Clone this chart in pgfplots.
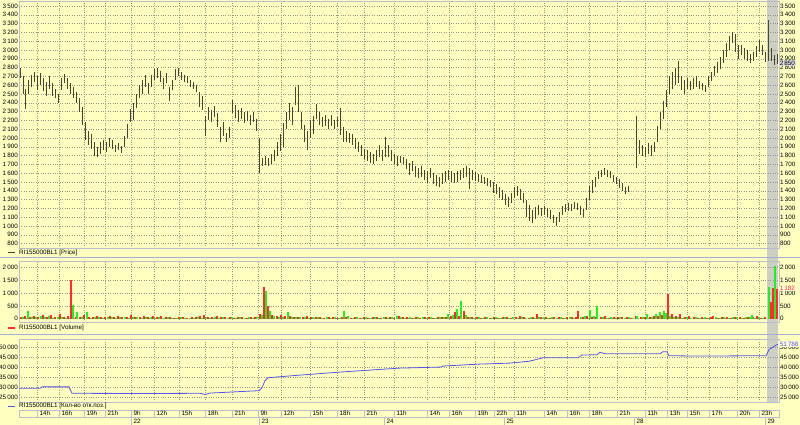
\documentclass[border=0pt]{standalone}
\usepackage{fontspec}
\setmainfont{Liberation Sans}
\usepackage{pgfplots}
\pgfplotsset{compat=1.18}
\definecolor{bgc}{RGB}{255,255,194}
\definecolor{gridc}{RGB}{150,150,135}
\definecolor{axc}{RGB}{185,190,205}
\definecolor{sepc}{RGB}{165,175,215}
\definecolor{pricec}{RGB}{70,70,45}
\definecolor{redc}{RGB}{255,45,45}
\definecolor{greenc}{RGB}{40,235,40}
\definecolor{oic}{RGB}{85,85,230}
\definecolor{shadec}{RGB}{205,207,195}
\newcommand\tlfont{\fontsize{6.3}{7}\selectfont}
\pgfplotsset{
 panel/.style={
  scale only axis, width=760pt, xmin=19, xmax=779, anchor=south west,
  axis line style={draw=axc},
  xtick={37,59,84,105,131,154,179,205,232,258,281,310,337,364,394,427,449,475,494,514,544,567,589,617,645,667,687,709,737,759},
  xticklabels={},
  xmajorgrids, ymajorgrids,
  grid style={gridc, dotted, line width=0.45pt},
  major tick length=0pt,
  yticklabel style={font=\tlfont, inner sep=1pt},
  scaled y ticks=false,
  /pgf/number format/1000 sep={\,},
  /pgf/number format/assume math mode=true,
 },
 rpanel/.style={panel, axis y line*=right, axis x line=none, xmajorgrids=false, ymajorgrids=false},
 strip/.style={
  scale only axis, width=760pt, xmin=19, xmax=779, ymin=0, ymax=1, anchor=south west,
  axis line style={draw=axc}, ytick=\empty, xmajorgrids, grid style={axc, solid, line width=0.5pt},
  major tick length=0pt,
  xticklabel style={anchor=south west, font=\tlfont, inner sep=0.8pt, xshift=1.5pt},
 },
}
\begin{document}
\begin{tikzpicture}
\fill[bgc] (0pt,0pt) rectangle (800pt,425pt);
\useasboundingbox (0pt,0pt) rectangle (800pt,425pt);
% highlight column
\fill[shadec] (767pt,23pt) rectangle (778pt,425pt);
% separators
\draw[sepc, line width=0.8pt] (0pt,168pt) -- (800pt,168pt);
\draw[sepc, line width=0.8pt] (0pt,91pt) -- (800pt,91pt);

% ---------------- PRICE ----------------
\begin{axis}[panel, at={(19pt,177pt)}, height=247pt, ymin=750, ymax=3557,
  ytick={800,900,...,3500}]
\addplot[pricec, line width=0.7pt, mark=none, quiver={u=0, v=\thisrow{h}-\thisrow{l}}]
 table[x=x, y=l] {
x l h
20 2680 2790
23 2500 2700
25 2330 2560
28 2500 2660
31 2580 2720
34 2640 2750
37 2540 2700
40 2600 2740
43 2530 2680
46 2480 2640
49 2560 2700
52 2480 2620
55 2450 2560
58 2400 2500
61 2540 2680
64 2620 2730
67 2560 2680
70 2500 2620
73 2460 2580
76 2400 2520
79 2300 2450
82 2150 2350
85 1980 2180
88 1920 2080
91 1880 2040
94 1800 1960
97 1780 1900
100 1820 1950
103 1860 1980
106 1840 1960
109 1900 2000
112 1880 1980
115 1840 1920
118 1860 1940
121 1830 1910
124 1900 2020
127 2000 2160
130 2180 2330
133 2200 2400
136 2340 2500
139 2450 2600
142 2500 2660
145 2580 2720
148 2500 2620
151 2580 2720
154 2660 2780
157 2680 2800
160 2640 2760
163 2560 2680
166 2620 2740
169 2420 2580
172 2540 2660
175 2660 2780
178 2700 2790
181 2660 2750
184 2640 2720
187 2620 2700
190 2580 2660
193 2560 2640
196 2520 2600
199 2350 2520
202 2320 2480
205 2020 2250
208 2200 2350
211 2180 2320
214 2240 2360
217 2130 2280
220 1960 2130
223 2020 2180
226 1950 2060
229 2000 2120
232 2280 2430
235 2230 2380
238 2180 2320
241 2220 2340
244 2170 2300
247 2190 2310
250 2150 2260
253 2180 2300
256 2080 2220
259 1600 2000
262 1680 1770
265 1690 1790
268 1680 1770
271 1700 1820
274 1740 1860
277 1800 1950
280 1850 2050
283 1900 2170
286 2100 2300
289 2200 2400
292 2150 2350
295 2380 2580
298 2300 2600
301 2100 2300
304 1950 2150
307 1860 2080
310 2000 2200
313 2050 2250
316 2220 2390
319 2150 2290
322 2120 2240
325 2140 2260
328 2100 2220
331 2140 2260
334 2100 2200
337 2120 2240
340 2030 2340
343 1960 2130
346 1950 2080
349 1940 2060
352 1920 2040
355 1880 2000
358 1840 1960
361 1800 1920
364 1760 1880
367 1740 1860
370 1720 1840
373 1700 1820
376 1740 1860
379 1780 1920
382 1740 1860
385 1780 2010
388 1780 1920
391 1740 1860
394 1700 1820
397 1680 1800
400 1720 1800
403 1700 1780
406 1650 1760
409 1580 1720
412 1620 1740
415 1560 1680
418 1540 1660
421 1560 1680
424 1520 1640
427 1490 1620
430 1540 1660
433 1480 1600
436 1460 1580
439 1440 1560
442 1480 1600
445 1500 1620
448 1520 1640
451 1500 1620
454 1490 1600
457 1500 1620
460 1520 1640
463 1540 1660
466 1560 1680
469 1420 1660
472 1520 1640
475 1510 1610
478 1500 1590
481 1490 1580
484 1480 1560
487 1460 1540
490 1440 1520
493 1380 1500
496 1360 1480
499 1320 1440
502 1290 1410
505 1240 1360
508 1220 1330
511 1260 1380
514 1320 1440
517 1340 1460
520 1300 1420
523 1260 1380
526 1100 1300
529 1060 1240
532 1030 1180
535 1080 1220
538 1120 1240
541 1110 1210
544 1130 1230
547 1100 1200
550 1080 1180
553 1030 1130
556 1000 1100
559 1050 1160
562 1130 1230
565 1160 1250
568 1170 1260
571 1170 1250
574 1190 1270
577 1180 1260
580 1130 1230
583 1100 1190
586 1180 1320
589 1300 1460
592 1380 1520
595 1440 1560
598 1530 1630
601 1560 1640
604 1580 1660
607 1560 1640
610 1540 1620
613 1500 1580
616 1480 1560
619 1430 1530
622 1400 1490
625 1360 1440
628 1390 1450
636 1660 2250
639 1820 1980
642 1800 1920
645 1780 1900
648 1820 1940
651 1800 1920
654 1840 1960
657 1960 2140
660 2100 2300
663 2220 2420
666 2350 2550
669 2500 2700
672 2560 2750
675 2600 2800
678 2620 2880
681 2540 2700
684 2500 2660
687 2560 2680
690 2550 2650
693 2560 2680
696 2580 2700
699 2560 2650
702 2540 2620
705 2520 2600
708 2580 2700
711 2650 2750
714 2700 2820
717 2740 2860
720 2780 2920
723 2850 3000
726 2920 3080
729 3000 3160
732 3080 3210
735 2980 3180
738 2900 3060
741 2940 3060
744 2900 3020
747 2880 3000
750 2850 2960
753 2880 2980
756 2920 3040
759 2980 3110
762 2940 3060
765 2860 2980
768 2880 3340
771 2880 3020
774 2830 2940
777 2840 2960
};
\end{axis}
\begin{axis}[rpanel, at={(19pt,177pt)}, height=247pt, ymin=750, ymax=3557,
  ytick={800,900,...,3500},
  extra y ticks={2850}, extra y tick labels={2\,850},
  extra y tick style={yticklabel style={fill=white!70!gray, inner sep=0.7pt}}]
\addplot[draw=none] coordinates {(19,1000)};
\end{axis}

% ---------------- VOLUME ----------------
\begin{axis}[panel, at={(19pt,103pt)}, height=61pt, ymin=-129, ymax=2263,
  ytick={0,500,1000,1500,2000}]
\addplot[redc, ycomb, line width=1.3pt, mark=none] table {
x v
21 70
25 90
30 60
34 110
38 80
43 140
47 60
51 150
55 70
60 180
64 60
68 90
71 1500
76 80
80 50
84 130
89 60
93 80
97 110
101 50
105 70
110 90
114 60
118 120
122 50
127 80
131 150
135 60
140 70
144 120
148 50
153 90
157 60
161 110
166 50
170 70
174 40
179 80
183 50
187 40
192 60
196 50
200 90
204 160
208 70
212 50
217 90
221 60
225 50
230 70
234 40
238 60
242 50
247 40
251 60
255 70
260 200
264 1250
268 500
272 150
277 100
281 160
285 90
290 110
294 60
298 80
303 50
307 90
311 60
316 70
320 50
324 40
329 60
333 50
337 40
342 50
346 60
351 40
355 50
360 40
364 70
368 40
373 50
377 60
381 40
386 80
390 50
394 30
399 100
403 60
407 50
412 40
416 60
420 40
425 50
429 60
433 40
438 50
442 70
446 60
451 90
455 250
459 120
464 300
468 80
472 50
477 60
481 40
485 50
490 40
494 60
498 40
503 50
507 70
511 40
516 60
520 90
524 50
529 40
533 60
537 200
541 60
546 50
550 40
554 60
559 50
563 40
567 60
572 50
576 80
578 300
583 60
587 100
592 50
596 80
601 60
605 100
609 40
614 60
618 50
622 80
627 60
631 40
636 100
641 80
645 60
650 50
654 120
658 100
662 150
668 950
672 200
676 120
680 200
685 60
689 100
694 50
698 40
702 60
707 40
711 50
713 100
718 40
722 60
727 50
731 40
735 60
740 50
744 40
748 60
753 50
757 100
761 40
765 60
771 650
773 1200
777 1182
};
\addplot[greenc, ycomb, line width=1.3pt, mark=none] table {
x v
23 50
28 300
32 80
36 60
41 90
45 50
49 100
53 40
58 60
62 50
66 40
73 550
77 250
82 60
87 250
91 40
95 60
99 50
103 40
108 70
112 50
116 40
120 60
125 50
129 40
133 60
137 50
142 40
146 60
151 50
155 40
159 60
164 40
168 50
172 30
177 40
181 60
185 40
190 30
194 40
198 50
202 40
206 60
210 40
215 50
219 40
223 60
228 40
232 50
236 40
240 60
245 40
249 50
253 40
257 60
262 150
266 1100
270 300
274 120
279 80
283 60
288 250
292 80
296 60
300 50
305 70
309 40
313 60
318 50
322 40
327 60
331 40
335 50
340 40
344 300
348 100
353 40
357 60
362 40
366 50
371 40
375 60
379 40
384 50
388 40
392 60
397 100
401 50
405 40
410 60
414 40
418 50
423 60
427 40
431 50
436 40
440 60
444 50
448 200
453 150
457 400
461 700
466 150
470 60
474 40
479 50
483 40
487 60
492 40
496 50
500 40
505 60
509 40
513 50
518 40
522 60
526 40
531 50
535 40
539 60
544 50
548 40
552 60
557 40
561 50
565 40
570 60
574 40
581 80
585 100
590 350
594 120
597 500
603 60
607 40
611 50
616 40
620 60
625 40
629 50
633 40
637 100
643 60
647 200
652 80
656 200
660 250
664 300
666 220
670 120
674 60
678 80
683 40
687 60
691 40
696 50
700 40
705 60
709 40
716 50
720 40
724 60
729 40
733 50
737 60
742 40
746 50
750 60
752 150
755 40
759 60
763 40
769 1250
775 2050
};
\end{axis}
\begin{axis}[rpanel, at={(19pt,103pt)}, height=61pt, ymin=-129, ymax=2263,
  ytick={0,500,1000,1500,2000},
  extra y ticks={1182}, extra y tick labels={1\,182},
  extra y tick style={yticklabel style={fill=white!85!yellow, text=redc, inner sep=0.7pt}}]
\addplot[draw=none] coordinates {(19,1000)};
\end{axis}

% ---------------- OPEN INTEREST ----------------
\begin{axis}[panel, at={(19pt,23pt)}, height=63pt, ymin=22850, ymax=54350,
  ytick={25000,30000,...,50000}]
\addplot[oic, line width=0.8pt, mark=none] table {
x v
19 29700
40 29700
42 30400
69 30400
72 27200
150 27100
200 27200
205 26600
210 27300
250 28300
259 28500
262 30000
265 33500
268 35000
300 36300
340 37800
400 39800
440 40300
445 40900
480 41800
510 42300
530 43300
543 45000
578 45000
582 46300
597 46500
600 47700
605 47000
660 47000
663 48000
667 48000
669 46000
700 45800
760 46000
766 46000
769 49000
772 50000
775 51000
778 51788
};
\end{axis}
\begin{axis}[rpanel, at={(19pt,23pt)}, height=63pt, ymin=22850, ymax=54350,
  ytick={25000,30000,...,50000},
  extra y ticks={51788}, extra y tick labels={51\,788},
  extra y tick style={yticklabel style={fill=white!85!yellow, text=oic, inner sep=0.7pt}}]
\addplot[draw=none] coordinates {(19,30000)};
\end{axis}

% ---------------- legends ----------------
\draw[pricec, line width=0.9pt] (8pt,172.5pt) -- (15pt,172.5pt);
\node[anchor=west, font=\tlfont, inner sep=0pt] at (19pt,172.5pt) {RI155000BL1 [Price]};
\draw[redc, line width=1.4pt] (8pt,97pt) -- (15pt,97pt);
\node[anchor=west, font=\tlfont, inner sep=0pt] at (19pt,97pt) {RI155000BL1 [Volume]};
\draw[oic, line width=0.9pt] (8pt,19pt) -- (15pt,19pt);
\node[anchor=west, font=\tlfont, inner sep=0pt] at (19pt,19pt) {RI155000BL1 [Кол-во отк.поз.]};

% ---------------- time strips ----------------
\begin{axis}[strip, at={(19pt,8pt)}, height=7pt,
  xtick={37,59,84,105,131,154,179,205,232,258,281,310,337,364,394,427,449,475,494,514,544,567,589,617,645,667,687,709,737,759},
  xticklabels={14h,16h,19h,21h,9h,12h,15h,18h,21h,9h,12h,15h,18h,21h,11h,14h,16h,19h,22h,11h,14h,16h,18h,21h,11h,13h,15h,17h,20h,23h}]
\addplot[draw=none] coordinates {(19,0.5)};
\end{axis}
\begin{axis}[strip, at={(19pt,0pt)}, height=8pt, axis line style={draw=none},
  xtick={131,259,384,504,634,765},
  xticklabels={22,23,24,25,28,29}]
\addplot[draw=none] coordinates {(19,0.5)};
\end{axis}
\end{tikzpicture}
\end{document}
